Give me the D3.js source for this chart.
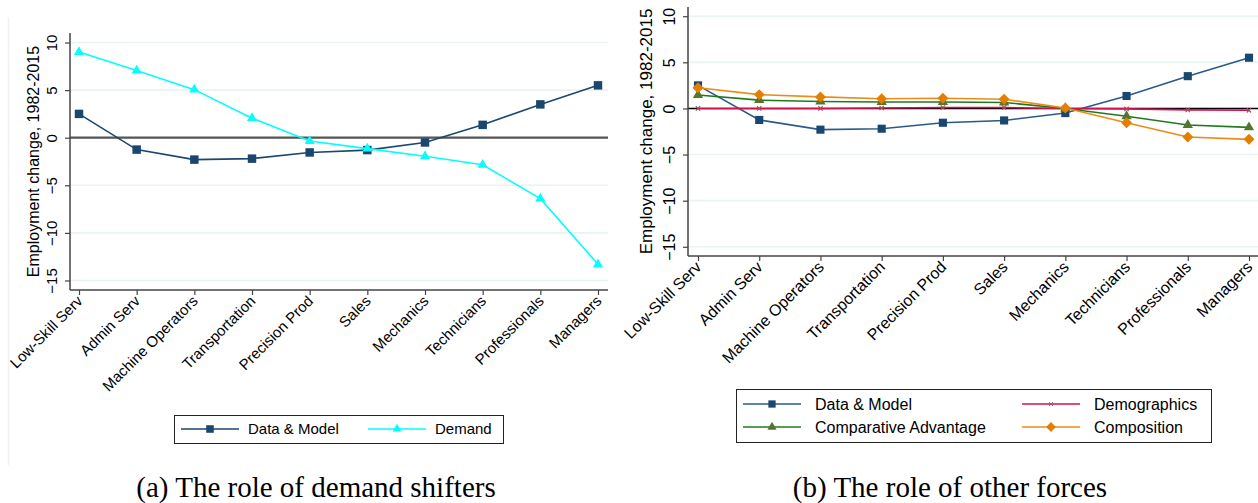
<!DOCTYPE html>
<html>
<head>
<meta charset="utf-8">
<title>Employment change by occupation</title>
<script src="https://cdn.jsdelivr.net/npm/d3@7/dist/d3.min.js"></script>
<style>
    body { margin: 0; background: #fff; }
    text { font-family: "Liberation Sans", Arial, sans-serif; fill: #000; }
    .caption { font-family: "Liberation Serif", "Times New Roman", serif; font-size: 29px; }
</style>
</head>
<body>
<script>

// occupations on the x axis, low-skill to high-skill
var occupations = ["Low-Skill Serv", "Admin Serv", "Machine Operators", "Transportation",
    "Precision Prod", "Sales", "Mechanics", "Technicians", "Professionals", "Managers"]

// series values (employment change, 1982-2015)
var dataModel      = [2.5, -1.25, -2.3, -2.2, -1.55, -1.3, -0.5, 1.35, 3.5, 5.5]
var demand         = [9.0, 7.05, 5.05, 2.05, -0.35, -1.15, -1.95, -2.85, -6.4, -13.3]
var demographics   = [0.0, 0.0, 0.0, 0.05, 0.1, 0.1, 0.0, -0.05, -0.15, -0.2]
var compAdvantage  = [1.45, 0.9, 0.75, 0.7, 0.7, 0.65, 0.0, -0.85, -1.8, -2.05]
var composition    = [2.25, 1.5, 1.25, 1.05, 1.1, 1.0, 0.05, -1.55, -3.1, -3.35]

var yTicks = [10, 5, 0, -5, -10, -15]
var yTitle = "Employment change, 1982-2015"

var width = 1258
var height = 503

var svg = d3.select("body").append("svg")
    .attr("width", width)
    .attr("height", height)

// faint frame edge on the left graph
svg.append("line")
    .attr("x1", 8.5).attr("x2", 8.5).attr("y1", 17).attr("y2", 465)
    .attr("stroke", "#eef2f1").attr("stroke-width", 1.5)

// diamond = square turned 45 degrees (stata style), not d3's tall diamond
var squareDiamond = {
    draw: function (context, size) {
        var r = Math.sqrt(size / 2)
        context.moveTo(0, -r)
        context.lineTo(r, 0)
        context.lineTo(0, r)
        context.lineTo(-r, 0)
        context.closePath()
    }
}

function drawPanel(p) {
    var x = d3.scalePoint().domain(occupations).range([p.xFirst, p.xLast])
    var y = d3.scaleLinear().domain([-16, 11]).range([p.bottom, p.top])
    var g = svg.append("g")
    var fs = p.fontSize

    // grid lines
    g.selectAll(".grid").data(yTicks).enter().append("line")
        .attr("x1", p.left).attr("x2", p.right)
        .attr("y1", d => y(d)).attr("y2", d => y(d))
        .attr("stroke", "#eaf2f3").attr("stroke-width", 1.6)

    // zero line
    g.append("line")
        .attr("x1", p.left).attr("x2", p.right)
        .attr("y1", y(0)).attr("y2", y(0))
        .attr("stroke", p.zeroColor).attr("stroke-width", p.zeroWidth)

    // y axis
    var yAxis = g.append("g")
        .attr("transform", "translate(" + p.left + ",0)")
        .call(d3.axisLeft(y).tickValues(yTicks).tickSize(5).tickFormat(d3.format("d")))
    yAxis.select(".domain").attr("d", "M0," + p.top + "V" + p.bottom).attr("stroke", "#444").attr("stroke-width", 1.5)
    yAxis.selectAll(".tick line").attr("stroke", "#444").attr("stroke-width", 1.2)
    yAxis.selectAll(".tick text")
        .attr("x", null).attr("dy", null)
        .attr("text-anchor", "middle")
        .attr("transform", "translate(-13,0) rotate(-90)")
        .attr("font-size", fs + "px")

    // x axis
    var xAxis = g.append("g")
        .attr("transform", "translate(0," + p.bottom + ")")
        .call(d3.axisBottom(x).tickSize(5))
    xAxis.select(".domain").attr("d", "M" + p.left + ",0H" + p.right).attr("stroke", "#444").attr("stroke-width", 1.5)
    xAxis.selectAll(".tick line").attr("stroke", "#444").attr("stroke-width", 1.2)
    xAxis.selectAll(".tick text")
        .attr("y", null).attr("dy", null)
        .attr("text-anchor", "end")
        .attr("transform", "translate(4,12) rotate(-45)")
        .attr("font-size", fs + "px")

    // y title
    g.append("text")
        .attr("transform", "translate(" + (p.left - p.titleOffset) + "," + ((p.top + p.bottom) / 2) + ") rotate(-90)")
        .attr("text-anchor", "middle")
        .attr("font-size", (fs + 1) + "px")
        .text(yTitle)

    var line = d3.line().x((d, i) => x(occupations[i])).y(d => y(d))

    p.series.forEach(s => {
        g.append("path")
            .attr("d", line(s.values))
            .attr("fill", "none")
            .attr("stroke", s.lineColor)
            .attr("stroke-width", 1.6)
        g.selectAll(null).data(s.values).enter().append("path")
            .attr("transform", (d, i) => "translate(" + x(occupations[i]) + "," + y(d) + ")")
            .attr("d", d3.symbol().type(s.symbol).size(s.size))
            .attr("fill", s.stroke ? "none" : s.markColor)
            .attr("stroke", s.stroke ? s.markColor : "none")
            .attr("stroke-width", s.stroke ? 1.2 : 0)
    })

    // legend
    var lg = g.append("g")
    lg.append("rect")
        .attr("x", p.legend.x + 0.5).attr("y", p.legend.y + 0.5)
        .attr("width", p.legend.w).attr("height", p.legend.h)
        .attr("fill", "#fff").attr("stroke", "#222").attr("stroke-width", 1)
    p.series.forEach((s, k) => {
        var pos = p.legend.items[k]
        lg.append("line")
            .attr("x1", pos[0]).attr("x2", pos[0] + 58)
            .attr("y1", pos[1]).attr("y2", pos[1])
            .attr("stroke", s.lineColor).attr("stroke-width", 1.6)
        lg.append("path")
            .attr("transform", "translate(" + (pos[0] + 29) + "," + pos[1] + ")")
            .attr("d", d3.symbol().type(s.symbol).size(s.size * 0.8))
            .attr("fill", s.stroke ? "none" : s.markColor)
            .attr("stroke", s.stroke ? s.markColor : "none")
            .attr("stroke-width", s.stroke ? 1 : 0)
        lg.append("text")
            .attr("x", pos[0] + p.legend.textGap).attr("y", pos[1])
            .attr("dy", "0.35em")
            .attr("font-size", fs + "px")
            .text(s.name)
    })

    // caption
    svg.append("text")
        .attr("class", "caption")
        .attr("x", p.captionX).attr("y", 497)
        .attr("text-anchor", "middle")
        .text(p.caption)
}

var navy = "#1a476f"

drawPanel({
    left: 70, right: 608, top: 33, bottom: 290,
    xFirst: 79, xLast: 598,
    titleOffset: 31, fontSize: 15,
    zeroColor: "#555", zeroWidth: 2.2,
    series: [
        { name: "Data & Model", values: dataModel, lineColor: navy, markColor: navy, symbol: d3.symbolSquare, size: 72 },
        { name: "Demand", values: demand, lineColor: "#00ffff", markColor: "#00ffff", symbol: d3.symbolTriangle, size: 44 }
    ],
    legend: { x: 174, y: 415, w: 329, h: 28, textGap: 67, items: [[181, 429], [368, 429]] },
    caption: "(a) The role of demand shifters", captionX: 316
})

drawPanel({
    left: 688, right: 1258, top: 7, bottom: 256,
    xFirst: 698, xLast: 1249,
    titleOffset: 36, fontSize: 16,
    zeroColor: "#000", zeroWidth: 1.6,
    series: [
        { name: "Data & Model", values: dataModel, lineColor: "#2a5a88", markColor: navy, symbol: d3.symbolSquare, size: 66 },
        { name: "Demographics", values: demographics, lineColor: "#d2124e", markColor: "#a0505e", symbol: d3.symbolX, size: 14, stroke: true },
        { name: "Comparative Advantage", values: compAdvantage, lineColor: "#1f7a1f", markColor: "#55752f", symbol: d3.symbolTriangle, size: 46 },
        { name: "Composition", values: composition, lineColor: "#ee8a17", markColor: "#e37e00", symbol: squareDiamond, size: 60 }
    ],
    legend: { x: 736, y: 389, w: 475, h: 53, textGap: 72, items: [[743, 404], [1022, 404], [743, 427], [1022, 427]] },
    caption: "(b) The role of other forces", captionX: 950
})

</script>
</body>
</html>
